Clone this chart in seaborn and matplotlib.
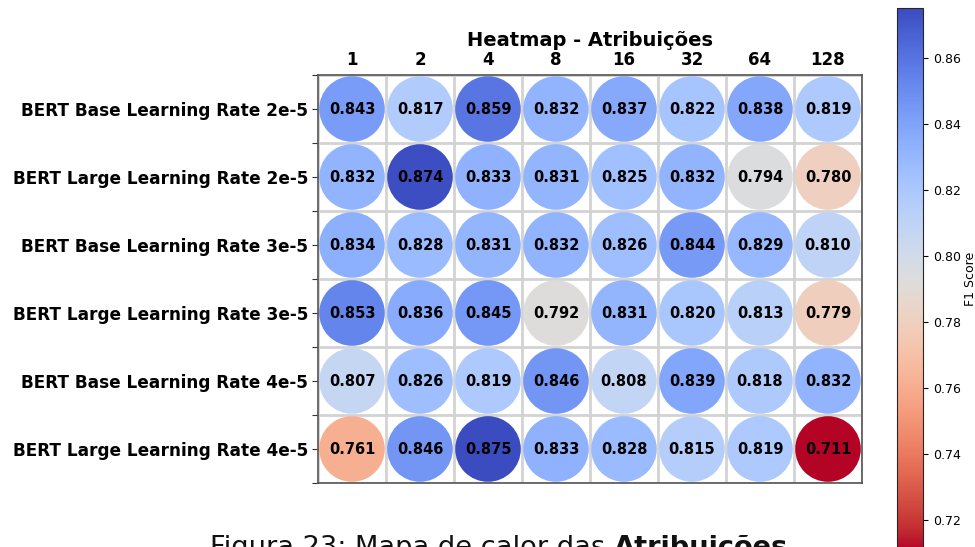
import matplotlib
matplotlib.use("Agg")
import matplotlib.pyplot as plt
import seaborn as sns
import numpy as np
import pandas as pd
from matplotlib.colors import Normalize
from matplotlib.cm import ScalarMappable

cols = ["1", "2", "4", "8", "16", "32", "64", "128"]
rows = ["BERT Base Learning Rate 2e-5", "BERT Large Learning Rate 2e-5",
        "BERT Base Learning Rate 3e-5", "BERT Large Learning Rate 3e-5",
        "BERT Base Learning Rate 4e-5", "BERT Large Learning Rate 4e-5"]
row1 = [0.843, 0.817, 0.859, 0.832, 0.837, 0.822, 0.838, 0.819]
row2 = [0.832, 0.874, 0.833, 0.831, 0.825, 0.832, 0.794, 0.780]
row3 = [0.834, 0.828, 0.831, 0.832, 0.826, 0.844, 0.829, 0.810]
row4 = [0.853, 0.836, 0.845, 0.792, 0.831, 0.820, 0.813, 0.779]
row5 = [0.807, 0.826, 0.819, 0.846, 0.808, 0.839, 0.818, 0.832]
row6 = [0.761, 0.846, 0.875, 0.833, 0.828, 0.815, 0.819, 0.711]
values = np.array([row1, row2, row3, row4, row5, row6])

sns.set_style("white")
plt.rcParams['font.family'] = ['DejaVu Sans']
plt.rcParams['text.color'] = 'black'
plt.rcParams['xtick.color'] = 'black'
plt.rcParams['ytick.color'] = 'black'
plt.rcParams['axes.labelcolor'] = 'black'

recs = []
for i, r in enumerate(rows):
    for j, c in enumerate(cols):
        recs.append({"xi": j, "yi": i, "val": values[i, j]})
df = pd.DataFrame(recs)

vmin, vmax = values.min(), values.max()
norm = Normalize(vmin=vmin, vmax=vmax)

fig = plt.figure(figsize=(9.75, 5.47), dpi=100)
ax = fig.add_axes([318/975, 1-483/547, 544/975, 408/547])

ax.set_xlim(-0.5, len(cols)-0.5)
ax.set_ylim(len(rows)-0.5, -0.5)

# grid on minor ticks
ax.set_xticks(np.arange(len(cols)+1)-0.5, minor=True)
ax.set_yticks(np.arange(len(rows)+1)-0.5, minor=True)
ax.grid(which="minor", color="#d3d3d3", linewidth=2, zorder=0)
ax.grid(which="major", visible=False)
ax.set_axisbelow(True)

cell_px = 68.0
diam_pt = 0.965 * cell_px * 72 / 100
sns.scatterplot(data=df, x="xi", y="yi", hue="val", palette="coolwarm_r",
                hue_norm=norm, s=diam_pt**2, linewidth=0, legend=False,
                ax=ax, zorder=2, marker="o")

for i in range(len(rows)):
    for j in range(len(cols)):
        ax.text(j, i, f"{values[i, j]:.3f}", ha="center", va="center",
                fontsize=10.5, fontweight="bold", color="black", zorder=3)

ax.set_xticks(range(len(cols)))
ax.set_xticklabels(cols, fontsize=12, fontweight="bold")
ax.set_yticks(range(len(rows)))
ax.set_yticklabels(rows, fontsize=12.2, fontweight="bold")
ax.xaxis.tick_top()
ax.tick_params(axis="x", which="both", length=0, pad=4)
ax.tick_params(axis="y", which="both", length=4, width=0.8, color="#333333", left=True, pad=3)
ax.set_xlabel("")
ax.set_ylabel("")
for sp in ax.spines.values():
    sp.set_color("#555555")
    sp.set_linewidth(1.2)
ax.set_title("Heatmap - Atribuições", fontsize=14, fontweight="bold", pad=21)

cax = fig.add_axes([897/975, -3/547, 26/975, 542/547])
sm = ScalarMappable(norm=norm, cmap="coolwarm_r")
cb = fig.colorbar(sm, cax=cax)
cb.set_ticks([0.72, 0.74, 0.76, 0.78, 0.80, 0.82, 0.84, 0.86])
cb.ax.tick_params(labelsize=9)
cb.set_label("F1 Score", fontsize=9, labelpad=2)
cb.outline.set_linewidth(0.8)

# caption (partially clipped at bottom, as in the reference)
t1 = fig.text(210/975, 1-535/547, "Figura 23: Mapa de calor das ", fontsize=19.6,
              va="top", ha="left", color="#111111")
fig.canvas.draw()
bb = t1.get_window_extent(renderer=fig.canvas.get_renderer())
fig.text(bb.x1/975, 1-535/547, "Atribuições", fontsize=19.6, fontweight="bold",
         va="top", ha="left", color="#111111")

fig.savefig("out.png", dpi=100)
